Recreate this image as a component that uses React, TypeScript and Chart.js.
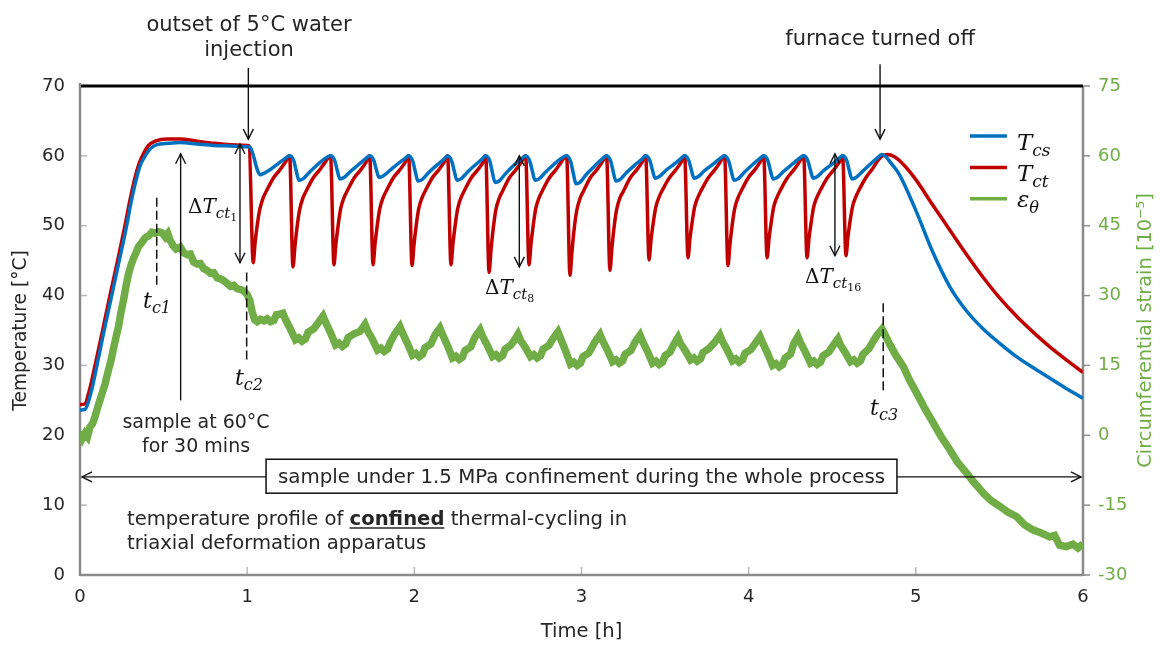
import React, { useEffect, useRef } from 'react';
import { Chart, registerables } from 'chart.js';

Chart.register(...registerables);

// ---------------- data ----------------
const timeRange = [0, 6];
const tempRange = [0, 70];
const strainRange = [-30, 75];
const timeStep = 1;
const tempStep = 10;
const strainStep = 15;

// T_cs (blue) : [time h, °C]
const tcsPoints: [number, number][] = [
  [0, 23.6], [0.03, 23.7], [0.05, 24.8], [0.075, 27.0], [0.097, 29.5], [0.14, 34.5], [0.185, 39.5], [0.23, 44.5],
  [0.275, 49.5], [0.305, 53.3], [0.335, 56.5], [0.36, 58.6], [0.385, 59.8], [0.42, 61.0], [0.46, 61.6], [0.53, 61.8],
  [0.6, 61.9], [0.7, 61.7], [0.8, 61.5], [0.9, 61.4], [1.0, 61.3], [1.017, 61.25],
  [1.04, 59.8], [1.058, 58.2], [1.077, 57.3], [1.1, 57.5], [1.136, 58.0], [1.186, 58.9], [1.226, 59.6], [1.254, 60.0],
  [1.279, 59.3], [1.294, 57.8], [1.31, 56.5], [1.334, 56.7], [1.374, 57.7], [1.424, 58.8], [1.464, 59.6], [1.499, 60.0],
  [1.524, 59.3], [1.539, 57.9], [1.555, 56.7], [1.579, 56.9], [1.619, 57.8], [1.669, 58.8], [1.709, 59.6], [1.733, 60.0],
  [1.758, 59.3], [1.773, 58.0], [1.789, 56.9], [1.813, 57.1], [1.853, 57.9], [1.903, 58.9], [1.943, 59.6], [1.966, 60.0],
  [1.991, 59.2], [2.006, 57.7], [2.022, 56.4], [2.046, 56.6], [2.086, 57.6], [2.136, 58.7], [2.176, 59.5], [2.199, 60.0],
  [2.224, 59.2], [2.239, 57.8], [2.255, 56.5], [2.279, 56.7], [2.319, 57.7], [2.369, 58.8], [2.404, 59.5], [2.427, 60.0],
  [2.452, 59.2], [2.467, 57.6], [2.483, 56.2], [2.507, 56.4], [2.547, 57.5], [2.597, 58.7], [2.637, 59.5], [2.666, 60.0],
  [2.691, 59.2], [2.706, 57.8], [2.722, 56.5], [2.746, 56.7], [2.786, 57.7], [2.836, 58.8], [2.876, 59.6], [2.911, 60.0],
  [2.936, 59.1], [2.951, 57.5], [2.967, 56.0], [2.991, 56.2], [3.031, 57.4], [3.081, 58.6], [3.121, 59.5], [3.15, 60.0],
  [3.175, 59.2], [3.19, 57.7], [3.206, 56.4], [3.23, 56.6], [3.27, 57.6], [3.32, 58.7], [3.36, 59.5], [3.384, 60.0],
  [3.409, 59.3], [3.424, 58.0], [3.44, 56.8], [3.464, 57.0], [3.504, 57.9], [3.554, 58.8], [3.594, 59.6], [3.617, 60.0],
  [3.642, 59.3], [3.657, 58.0], [3.673, 56.8], [3.697, 57.0], [3.737, 57.9], [3.787, 58.8], [3.827, 59.6], [3.856, 60.0],
  [3.881, 59.2], [3.896, 57.8], [3.912, 56.5], [3.936, 56.7], [3.976, 57.7], [4.026, 58.8], [4.066, 59.6], [4.09, 60.0],
  [4.115, 59.3], [4.13, 57.9], [4.146, 56.7], [4.17, 56.9], [4.21, 57.8], [4.26, 58.8], [4.3, 59.6], [4.329, 60.0],
  [4.354, 59.3], [4.369, 58.0], [4.385, 56.8], [4.409, 57.0], [4.449, 57.9], [4.499, 58.8], [4.539, 59.6], [4.562, 60.0],
  [4.587, 59.3], [4.602, 57.9], [4.618, 56.7], [4.642, 56.9], [4.682, 57.8], [4.732, 58.9], [4.77, 59.7], [4.795, 60.2],
  [4.82, 59.9], [4.85, 59.0], [4.9, 57.4], [5.0, 52.2], [5.1, 46.3], [5.2, 41.4], [5.3, 37.9], [5.4, 35.3],
  [5.5, 33.2], [5.6, 31.3], [5.7, 29.7], [5.8, 28.2], [5.9, 26.7], [6.0, 25.3],
];

// T_ct (red) : [time h, °C]
const tctPoints: [number, number][] = [
  [0, 24.4], [0.03, 24.5], [0.05, 25.9], [0.07, 27.8], [0.09, 30.0], [0.135, 35.0], [0.179, 40.0], [0.225, 45.0],
  [0.269, 50.0], [0.3, 53.8], [0.33, 57.0], [0.355, 59.0], [0.377, 60.2], [0.41, 61.5], [0.45, 62.1], [0.52, 62.4],
  [0.6, 62.4], [0.7, 62.1], [0.8, 61.8], [0.9, 61.6], [1.0, 61.5], [1.012, 61.4],
  [1.036, 44.7], [1.048, 47.7], [1.061, 50.2], [1.076, 52.4], [1.096, 54.0], [1.116, 55.0], [1.156, 56.8], [1.196, 58.0], [1.226, 59.0], [1.254, 60.0],
  [1.274, 44.1], [1.286, 47.1], [1.299, 49.9], [1.314, 52.3], [1.334, 54.0], [1.354, 55.0], [1.394, 56.8], [1.434, 58.0], [1.464, 59.0], [1.499, 60.0],
  [1.519, 44.4], [1.531, 47.4], [1.544, 50.0], [1.559, 52.4], [1.579, 54.0], [1.599, 55.0], [1.639, 56.8], [1.679, 58.0], [1.709, 59.0], [1.733, 60.0],
  [1.753, 44.4], [1.765, 47.4], [1.778, 50.0], [1.793, 52.4], [1.813, 54.0], [1.833, 55.0], [1.873, 56.8], [1.913, 58.0], [1.943, 59.0], [1.966, 60.0],
  [1.986, 44.3], [1.998, 47.3], [2.011, 50.0], [2.026, 52.4], [2.046, 54.0], [2.066, 55.0], [2.106, 56.8], [2.146, 58.0], [2.176, 59.0], [2.199, 60.0],
  [2.219, 44.4], [2.231, 47.4], [2.244, 50.0], [2.259, 52.4], [2.279, 54.0], [2.299, 55.0], [2.339, 56.8], [2.379, 58.0], [2.409, 59.0], [2.427, 60.0],
  [2.447, 43.3], [2.459, 46.6], [2.472, 49.6], [2.487, 52.2], [2.507, 53.9], [2.527, 54.9], [2.567, 56.8], [2.607, 58.0], [2.637, 59.0], [2.666, 60.0],
  [2.686, 44.4], [2.698, 47.4], [2.711, 50.0], [2.726, 52.4], [2.746, 54.0], [2.766, 55.0], [2.806, 56.8], [2.846, 58.0], [2.876, 59.0], [2.911, 60.0],
  [2.931, 42.9], [2.943, 46.3], [2.956, 49.5], [2.971, 52.1], [2.991, 53.9], [3.011, 54.9], [3.051, 56.8], [3.091, 58.0], [3.121, 59.0], [3.15, 60.0],
  [3.17, 43.6], [3.182, 46.8], [3.195, 49.8], [3.21, 52.3], [3.23, 54.0], [3.25, 54.9], [3.29, 56.8], [3.33, 58.0], [3.36, 59.0], [3.384, 60.0],
  [3.404, 45.1], [3.416, 48.0], [3.429, 50.4], [3.444, 52.6], [3.464, 54.1], [3.484, 55.1], [3.524, 56.8], [3.564, 58.0], [3.594, 59.0], [3.617, 60.0],
  [3.637, 45.4], [3.649, 48.2], [3.662, 50.5], [3.677, 52.7], [3.697, 54.1], [3.717, 55.1], [3.757, 56.8], [3.797, 58.0], [3.827, 59.0], [3.856, 60.0],
  [3.876, 44.3], [3.888, 47.3], [3.901, 50.0], [3.916, 52.4], [3.936, 54.0], [3.956, 55.0], [3.996, 56.8], [4.036, 58.0], [4.066, 59.0], [4.09, 60.0],
  [4.11, 45.4], [4.122, 48.2], [4.135, 50.5], [4.15, 52.7], [4.17, 54.1], [4.19, 55.1], [4.23, 56.8], [4.27, 58.0], [4.3, 59.0], [4.329, 60.0],
  [4.349, 45.4], [4.361, 48.2], [4.374, 50.5], [4.389, 52.7], [4.409, 54.1], [4.429, 55.1], [4.469, 56.8], [4.509, 58.0], [4.539, 59.0], [4.562, 60.0],
  [4.582, 45.7], [4.594, 48.4], [4.607, 50.7], [4.622, 52.8], [4.642, 54.2], [4.662, 55.2], [4.702, 56.9], [4.742, 58.2], [4.772, 59.3],
  [4.8, 60.0], [4.83, 60.2], [4.87, 59.9], [4.92, 58.9], [5.0, 56.6], [5.1, 53.0], [5.2, 49.5], [5.3, 46.0],
  [5.4, 42.7], [5.5, 39.7], [5.6, 37.1], [5.7, 34.8], [5.8, 32.7], [5.9, 30.8], [6.0, 29.0],
];

// ε_θ (green) : [time h, 10^-5]
const strainPoints: [number, number][] = [
  [0, 0.8], [0.015, -0.6], [0.03, 0.4], [0.045, -0.3], [0.06, 1.8], [0.075, 2.5], [0.09, 4.0], [0.11, 6.5],
  [0.13, 8.8], [0.15, 11.0], [0.17, 14.0], [0.185, 16.0], [0.2, 18.6], [0.215, 21.0], [0.23, 23.3], [0.245, 26.4],
  [0.26, 29.0], [0.275, 32.0], [0.29, 34.6], [0.305, 36.5], [0.32, 38.0], [0.335, 39.2], [0.35, 40.5], [0.37, 41.4],
  [0.39, 42.4], [0.41, 42.8], [0.43, 43.6], [0.45, 43.4], [0.47, 43.7], [0.49, 43.5], [0.51, 42.6], [0.525, 43.3],
  [0.54, 41.8], [0.56, 40.6], [0.575, 40.0], [0.6, 40.4], [0.62, 39.2], [0.64, 38.8], [0.66, 38.9], [0.68, 37.2],
  [0.7, 36.8], [0.72, 36.9], [0.74, 35.8], [0.76, 35.4], [0.78, 34.8], [0.8, 34.9], [0.82, 33.8], [0.84, 33.6],
  [0.86, 33.2], [0.88, 32.6], [0.9, 32.0], [0.92, 32.2], [0.94, 31.5], [0.96, 31.3], [0.98, 31.0], [1.0, 30.2],
  [1.015, 29.0], [1.03, 26.5], [1.045, 24.8], [1.06, 24.4], [1.08, 24.9], [1.1, 24.6], [1.12, 25.0], [1.14, 24.4],
  [1.16, 24.7], [1.175, 25.9], [1.195, 26.0], [1.214, 26.2],
  [1.229, 24.9], [1.259, 22.8], [1.289, 20.5], [1.309, 20.9], [1.329, 20.2], [1.349, 20.7], [1.364, 22.1], [1.399, 22.9], [1.424, 24.1], [1.454, 25.6],
  [1.469, 24.3], [1.499, 22.0], [1.529, 19.4], [1.549, 19.8], [1.569, 19.1], [1.589, 19.6], [1.604, 21.0], [1.639, 21.8], [1.675, 22.3], [1.705, 23.8],
  [1.72, 22.5], [1.75, 20.6], [1.78, 18.3], [1.8, 18.7], [1.82, 18.0], [1.84, 18.5], [1.855, 19.9], [1.884, 21.8], [1.914, 23.3],
  [1.929, 22.0], [1.959, 19.7], [1.989, 17.2], [2.009, 17.6], [2.029, 16.9], [2.049, 17.4], [2.064, 18.8], [2.099, 19.6], [2.123, 21.5], [2.153, 23.0],
  [2.168, 21.7], [2.198, 19.3], [2.228, 16.6], [2.248, 17.0], [2.268, 16.3], [2.288, 16.8], [2.303, 18.2], [2.338, 19.0], [2.363, 21.1], [2.393, 22.6],
  [2.408, 21.3], [2.438, 19.2], [2.468, 16.9], [2.488, 17.3], [2.508, 16.6], [2.528, 17.1], [2.543, 18.5], [2.575, 19.3], [2.595, 20.2], [2.62, 21.7],
  [2.635, 20.4], [2.665, 18.8], [2.695, 16.9], [2.715, 17.3], [2.735, 16.6], [2.755, 17.1], [2.77, 18.5], [2.805, 19.3], [2.829, 20.7], [2.859, 22.2],
  [2.874, 20.9], [2.904, 18.2], [2.934, 15.3], [2.954, 15.7], [2.974, 15.0], [2.994, 15.5], [3.009, 16.9], [3.044, 17.7], [3.081, 20.1], [3.111, 21.6],
  [3.126, 20.3], [3.156, 18.2], [3.186, 15.8], [3.206, 16.2], [3.226, 15.5], [3.246, 16.0], [3.261, 17.4], [3.296, 18.2], [3.32, 20.0], [3.35, 21.5],
  [3.365, 20.2], [3.395, 18.0], [3.425, 15.5], [3.445, 15.9], [3.465, 15.2], [3.485, 15.7], [3.5, 17.1], [3.53, 17.9], [3.552, 19.5], [3.577, 21.0],
  [3.592, 19.7], [3.622, 18.1], [3.652, 16.2], [3.672, 16.6], [3.692, 15.9], [3.712, 16.4], [3.727, 17.8], [3.762, 18.6], [3.798, 20.0], [3.828, 21.5],
  [3.843, 20.2], [3.873, 18.2], [3.903, 16.0], [3.923, 16.4], [3.943, 15.7], [3.963, 16.2], [3.978, 17.6], [4.013, 18.4], [4.038, 19.7], [4.068, 21.2],
  [4.083, 19.9], [4.113, 17.6], [4.143, 15.0], [4.163, 15.4], [4.183, 14.7], [4.203, 15.2], [4.218, 16.6], [4.25, 17.4], [4.27, 19.7], [4.295, 21.2],
  [4.31, 19.9], [4.34, 17.8], [4.37, 15.5], [4.39, 15.9], [4.41, 15.2], [4.43, 15.7], [4.445, 17.1], [4.48, 17.9], [4.504, 19.2], [4.534, 20.7],
  [4.549, 19.4], [4.579, 17.7], [4.609, 15.8], [4.629, 16.2], [4.649, 15.5], [4.669, 16.0], [4.684, 17.4], [4.72, 18.6], [4.745, 20.2], [4.768, 21.5], [4.798, 22.8],
  [4.81, 22.0], [4.84, 19.8], [4.88, 17.2], [4.926, 14.7], [4.96, 12.0], [5.006, 9.0], [5.05, 6.0], [5.105, 2.6],
  [5.15, -0.2], [5.205, -3.2], [5.25, -5.8], [5.305, -8.2], [5.35, -10.2], [5.405, -12.5], [5.45, -14.0], [5.504, -15.3],
  [5.55, -16.5], [5.604, -17.5], [5.65, -19.2], [5.7, -20.3], [5.75, -21.0], [5.8, -21.8], [5.83, -21.5], [5.86, -23.6],
  [5.9, -23.9], [5.94, -23.4], [5.97, -24.2], [6.0, -23.3],
];

const seriesNames = ['T_cs', 'T_ct', 'ε_θ'];
const axisTitles = ['Time [h]', 'Temperature [°C]', 'Circumferential strain [10⁻⁵]'];

// ---------------- styling ----------------
const BLUE = '#0070C0';
const RED = '#C00000';
const GREEN = '#70AD47';
const TXT = '#262626';
const SANS = "'DejaVu Sans', sans-serif";
const SERIF = "'DejaVu Serif', serif";

type Part = { t: string; size: number; italic?: boolean; dy?: number };

function drawRich(ctx: CanvasRenderingContext2D, parts: Part[], x: number, y: number, align: 'left' | 'center') {
  const fontOf = (p: Part) => `${p.italic ? 'italic ' : ''}${p.size}px ${SERIF}`;
  let w = 0;
  for (const p of parts) {
    ctx.font = fontOf(p);
    w += ctx.measureText(p.t).width;
  }
  let cx = align === 'center' ? x - w / 2 : x;
  ctx.textAlign = 'left';
  ctx.textBaseline = 'alphabetic';
  for (const p of parts) {
    ctx.font = fontOf(p);
    ctx.fillText(p.t, cx, y + (p.dy || 0));
    cx += ctx.measureText(p.t).width;
  }
}

function head(ctx: CanvasRenderingContext2D, x: number, y: number, dir: 'up' | 'down' | 'left' | 'right') {
  const L = 10, W = 5;
  ctx.beginPath();
  if (dir === 'down') { ctx.moveTo(x - W, y - L); ctx.lineTo(x, y); ctx.lineTo(x + W, y - L); }
  if (dir === 'up') { ctx.moveTo(x - W, y + L); ctx.lineTo(x, y); ctx.lineTo(x + W, y + L); }
  if (dir === 'left') { ctx.moveTo(x + L, y - W); ctx.lineTo(x, y); ctx.lineTo(x + L, y + W); }
  if (dir === 'right') { ctx.moveTo(x - L, y - W); ctx.lineTo(x, y); ctx.lineTo(x - L, y + W); }
  ctx.stroke();
}

function line(ctx: CanvasRenderingContext2D, x1: number, y1: number, x2: number, y2: number) {
  ctx.beginPath();
  ctx.moveTo(x1, y1);
  ctx.lineTo(x2, y2);
  ctx.stroke();
}

function subT(base: string, sub: string, size: number): Part[] {
  return [
    { t: base, size, italic: true },
    { t: sub, size: Math.round(size * 0.72), italic: true, dy: Math.round(size * 0.25) },
  ];
}

function deltaT(idx: string): Part[] {
  return [
    { t: 'Δ', size: 20 },
    { t: 'T', size: 20, italic: true },
    { t: 'ct', size: 15, italic: true, dy: 5 },
    { t: idx, size: 11, dy: 8 },
  ];
}

const axesPlugin = {
  id: 'axesFrame',
  beforeDatasetsDraw(chart: any) {
    const { ctx, chartArea: ca, scales } = chart;
    const X = (v: number) => scales.x.getPixelForValue(v);
    const Y = (v: number) => scales.y.getPixelForValue(v);
    const Y1 = (v: number) => scales.y1.getPixelForValue(v);
    ctx.save();
    ctx.strokeStyle = '#b8b8b8';
    ctx.lineWidth = 1.5;
    for (let v = tempRange[0] + tempStep; v < tempRange[1]; v += tempStep) line(ctx, ca.left, Y(v), ca.left + 7, Y(v));
    for (let v = timeRange[0] + timeStep; v < timeRange[1]; v += timeStep) line(ctx, X(v), ca.bottom, X(v), ca.bottom - 8);
    ctx.strokeStyle = '#8c8c8c';
    for (let v = strainRange[0]; v <= strainRange[1]; v += strainStep) line(ctx, ca.right, Y1(v), ca.right + 7, Y1(v));
    ctx.strokeStyle = '#8a8a8a';
    ctx.lineWidth = 2.5;
    line(ctx, ca.left, ca.top - 3, ca.left, ca.bottom + 1);
    line(ctx, ca.left, ca.bottom, ca.right, ca.bottom);
    line(ctx, ca.right, ca.top, ca.right, ca.bottom + 1);
    ctx.strokeStyle = '#000';
    ctx.lineWidth = 3;
    line(ctx, ca.left + 1, ca.top, ca.right, ca.top);
    ctx.restore();
  },
};

const overlayPlugin = {
  id: 'overlay',
  afterDatasetsDraw(chart: any) {
    const { ctx, chartArea: ca, scales } = chart;
    const X = (v: number) => scales.x.getPixelForValue(v);
    const Y = (v: number) => scales.y.getPixelForValue(v);
    ctx.save();
    ctx.fillStyle = TXT;
    ctx.strokeStyle = '#111';
    ctx.lineWidth = 1.4;

    // ---- injection arrow + text
    line(ctx, X(1.007), Y(72.6), X(1.007), Y(62.4));
    head(ctx, X(1.007), Y(62.4), 'down');
    ctx.font = `21px ${SANS}`;
    ctx.textAlign = 'center';
    ctx.textBaseline = 'alphabetic';
    ctx.fillText('outset of 5°C water', X(1.011), Y(77.86));
    ctx.fillText('injection', X(1.011), Y(74.29));

    // ---- furnace arrow + text
    line(ctx, X(4.786), Y(73.1), X(4.786), Y(62.4));
    head(ctx, X(4.786), Y(62.4), 'down');
    ctx.fillText('furnace turned off', X(4.786), Y(75.86));

    // ---- ΔT arrows (double headed)
    const dbl = (x: number, y1: number, y2: number) => {
      line(ctx, X(x), Y(y1), X(x), Y(y2));
      head(ctx, X(x), Y(y1), 'up');
      head(ctx, X(x), Y(y2), 'down');
    };
    dbl(0.957, 61.7, 44.7);
    dbl(2.628, 60.0, 44.1);
    dbl(4.516, 60.3, 45.7);
    ctx.fillStyle = '#111';
    drawRich(ctx, deltaT('1'), X(0.646), Y(51.86), 'left');
    drawRich(ctx, deltaT('8'), X(2.423), Y(40.29), 'left');
    drawRich(ctx, deltaT('16'), X(4.337), Y(41.86), 'left');

    // ---- sample at 60°C arrow
    line(ctx, X(0.602), Y(25), X(0.602), Y(60.3));
    head(ctx, X(0.602), Y(60.3), 'up');
    ctx.fillStyle = TXT;
    ctx.font = `19px ${SANS}`;
    ctx.textAlign = 'center';
    ctx.fillText('sample at 60°C', X(0.694), Y(21));
    ctx.fillText('for 30 mins', X(0.694), Y(17.57));

    // ---- dashed t_c markers
    ctx.save();
    ctx.setLineDash([9, 4]);
    ctx.lineWidth = 1.5;
    line(ctx, X(0.459), Y(54.0), X(0.459), Y(41.2));
    line(ctx, X(0.997), Y(43.3), X(0.997), Y(30.7));
    line(ctx, X(4.805), Y(38.9), X(4.805), Y(26.1));
    ctx.restore();
    ctx.fillStyle = '#111';
    drawRich(ctx, [{ t: 't', size: 22, italic: true }, { t: 'c1', size: 16, italic: true, dy: 5 }], X(0.461), Y(38.29), 'center');
    drawRich(ctx, [{ t: 't', size: 22, italic: true }, { t: 'c2', size: 16, italic: true, dy: 5 }], X(1.011), Y(27.14), 'center');
    drawRich(ctx, [{ t: 't', size: 22, italic: true }, { t: 'c3', size: 16, italic: true, dy: 5 }], X(4.81), Y(22.86), 'center');

    // ---- confinement double arrow with box
    ctx.strokeStyle = '#111';
    ctx.lineWidth = 1.4;
    line(ctx, X(0) + 2, Y(14.04), X(6) - 2, Y(14.04));
    head(ctx, X(0) + 2, Y(14.04), 'left');
    head(ctx, X(6) - 2, Y(14.04), 'right');
    const bx1 = X(1.113), bx2 = X(4.887), by1 = Y(16.57), by2 = Y(11.71);
    ctx.fillStyle = '#fff';
    ctx.fillRect(bx1, by1, bx2 - bx1, by2 - by1);
    ctx.lineWidth = 1.5;
    ctx.strokeRect(bx1, by1, bx2 - bx1, by2 - by1);
    ctx.fillStyle = TXT;
    ctx.font = `19.8px ${SANS}`;
    ctx.textAlign = 'center';
    ctx.fillText('sample under 1.5 MPa confinement during the whole process', X(3.0), Y(13.14));

    // ---- bottom-left description
    ctx.textAlign = 'left';
    let tx = X(0.281);
    const ty = Y(7.14);
    const a = 'temperature profile of ';
    ctx.font = `19.6px ${SANS}`;
    ctx.fillText(a, tx, ty);
    tx += ctx.measureText(a).width;
    ctx.font = `bold 19.6px ${SANS}`;
    ctx.fillText('confined', tx, ty);
    const bw = ctx.measureText('confined').width;
    ctx.lineWidth = 1.5;
    ctx.strokeStyle = TXT;
    line(ctx, tx, ty + 3, tx + bw, ty + 3);
    tx += bw;
    ctx.font = `19.6px ${SANS}`;
    ctx.fillText(' thermal-cycling in', tx, ty);
    ctx.fillText('triaxial deformation apparatus', X(0.281), Y(3.71));

    // ---- legend
    const legend = [
      { c: BLUE, parts: subT('T', 'cs', 23), y: 62.86, ty: 60.86 },
      { c: RED, parts: subT('T', 'ct', 23), y: 58.33, ty: 56.43 },
      { c: GREEN, parts: [{ t: 'ε', size: 23, italic: true }, { t: 'θ', size: 16, italic: true, dy: 6 }], y: 53.86, ty: 52.71 },
    ];
    for (const l of legend) {
      ctx.strokeStyle = l.c;
      ctx.lineWidth = 3.5;
      line(ctx, X(5.324), Y(l.y), X(5.545), Y(l.y));
      ctx.fillStyle = '#111';
      drawRich(ctx, l.parts, X(5.605), Y(l.ty), 'left');
    }

    // ---- axis titles
    ctx.fillStyle = TXT;
    ctx.textAlign = 'center';
    ctx.textBaseline = 'middle';
    ctx.font = `19.5px ${SANS}`;
    ctx.fillText(axisTitles[0], (ca.left + ca.right) / 2, ca.bottom + 57);
    ctx.save();
    ctx.font = `18.6px ${SANS}`;
    ctx.translate(ca.left - 59, (ca.top + ca.bottom) / 2);
    ctx.rotate(-Math.PI / 2);
    ctx.fillText(axisTitles[1], 0, 0);
    ctx.restore();
    ctx.save();
    ctx.font = `19.4px ${SANS}`;
    ctx.fillStyle = GREEN;
    ctx.translate(ca.right + 63, (ca.top + ca.bottom) / 2);
    ctx.rotate(-Math.PI / 2);
    ctx.fillText(axisTitles[2], 0, 0);
    ctx.restore();

    ctx.restore();
  },
};

export default function App() {
  const canvasRef = useRef<HTMLCanvasElement | null>(null);

  useEffect(() => {
    if (!canvasRef.current) return;
    const toXY = (pts: [number, number][]) => pts.map(([x, y]) => ({ x, y }));
    const tickFont = { family: SANS, size: 18 };
    const chart = new Chart(canvasRef.current, {
      type: 'line',
      data: {
        datasets: [
          {
            label: seriesNames[0],
            data: toXY(tcsPoints),
            borderColor: BLUE,
            borderWidth: 3.5,
            pointRadius: 0,
            cubicInterpolationMode: 'monotone',
            yAxisID: 'y',
            order: 0,
          },
          {
            label: seriesNames[1],
            data: toXY(tctPoints),
            borderColor: RED,
            borderWidth: 3.5,
            pointRadius: 0,
            cubicInterpolationMode: 'monotone',
            yAxisID: 'y',
            order: 1,
          },
          {
            label: seriesNames[2],
            data: toXY(strainPoints),
            borderColor: GREEN,
            borderWidth: 7.5,
            pointRadius: 0,
            tension: 0,
            yAxisID: 'y1',
            order: 2,
          },
        ],
      },
      options: {
        animation: false,
        responsive: false,
        events: [],
        layout: { padding: { top: 86, left: 0, right: 0, bottom: 0 } },
        plugins: { legend: { display: false }, tooltip: { enabled: false } },
        scales: {
          x: {
            type: 'linear',
            min: timeRange[0],
            max: timeRange[1],
            ticks: { stepSize: timeStep, font: tickFont, color: TXT, padding: 12, maxRotation: 0, autoSkip: false },
            grid: { display: false, drawTicks: false },
            border: { display: false },
            afterFit: (s: any) => { s.height = 71; },
          },
          y: {
            type: 'linear',
            position: 'left',
            min: tempRange[0],
            max: tempRange[1],
            ticks: { stepSize: tempStep, font: tickFont, color: TXT, padding: 15 },
            grid: { display: false, drawTicks: false },
            border: { display: false },
            afterFit: (s: any) => { s.width = 80; },
          },
          y1: {
            type: 'linear',
            position: 'right',
            min: strainRange[0],
            max: strainRange[1],
            ticks: { stepSize: strainStep, font: tickFont, color: GREEN, padding: 15 },
            grid: { display: false, drawTicks: false },
            border: { display: false },
            afterFit: (s: any) => { s.width = 78; },
          },
        },
      } as any,
      plugins: [axesPlugin, overlayPlugin],
    });
    return () => chart.destroy();
  }, []);

  return (
    <div style={{ position: 'fixed', left: 0, top: 0, width: 1161, height: 646, background: '#fff' }}>
      <canvas ref={canvasRef} width={1161} height={646} />
    </div>
  );
}
